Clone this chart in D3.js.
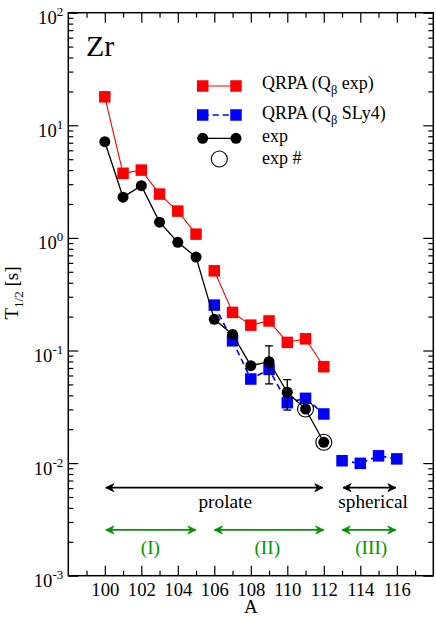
<!DOCTYPE html>
<html>
<head>
<meta charset="utf-8">
<script src="https://cdn.jsdelivr.net/npm/d3@7"></script>
<style>
  body { margin: 0; background: #fff; }
</style>
</head>
<body>
<svg width="436" height="617"></svg>
<script>
// mass numbers and half-lives [s]
var massA = [100, 101, 102, 103, 104, 105, 106, 107, 108, 109, 110, 111, 112];
var qrpaExp = [17.9, 3.75, 4.0, 2.45, 1.73, 1.08, 0.51, 0.218, 0.168, 0.183, 0.118, 0.127, 0.0718];
var slyA = [106, 107, 108, 109, 110, 111, 112, 113, 114, 115, 116];
var qrpaSly = [0.253, 0.122, 0.0558, 0.068, 0.0344, 0.0376, 0.0273, 0.0105, 0.00995, 0.0116, 0.0109];
var expT = [7.15, 2.3, 2.91, 1.38, 0.914, 0.676, 0.189, 0.139, 0.0733, 0.0795, 0.0426, 0.0302, 0.0153];
var errA = [109, 110];
var errLo = [0.0505, 0.0296];
var errHi = [0.110, 0.0551];
var hashA = [111, 112];
var hashT = [0.0302, 0.0153];
// the calculated curves are not joined across these gaps
var redBreak = 105.5;
var blueBreak = 112.5;
var xTicks = [100, 102, 104, 106, 108, 110, 112, 114, 116];
var yDecades = [-3, -2, -1, 0, 1, 2];

// shape regions (arrow spans)
var shapeNames = ["prolate", "spherical"];
var shapeFrom = [100, 113];
var shapeTo = [112, 116];
var shapeTextA = [106.6, 114.7];
var regNames = ["(I)", "(II)", "(III)"];
var regFrom = [100, 105.95, 112.95];
var regTo = [105.05, 112.05, 116];
var regTextA = [102.5, 108.9, 114.6];

var serif = "'Liberation Serif', 'Times New Roman', Times, serif";
var svg = d3.select("svg").attr("font-family", serif);
var pL = 68.3, pR = 433.3, pT = 12.7, pB = 575.7;

var x = d3.scaleLinear().domain([98, 118]).range([pL, pR]);
var y = d3.scaleLog().domain([1e-3, 1e2]).range([pB, pT]);

var green = "rgb(0,150,0)";

var defs = svg.append("defs");
function arrowMarker(id, col) {
  defs.append("marker")
      .attr("id", id)
      .attr("viewBox", "-10 -5 11 10")
      .attr("refX", 0).attr("refY", 0)
      .attr("markerWidth", 11).attr("markerHeight", 10)
      .attr("markerUnits", "userSpaceOnUse")
      .attr("orient", "auto-start-reverse")
    .append("path")
      .attr("d", "M0,0 L-8,-4 L-5.5,0 L-8,4 Z")
      .attr("fill", col)
      .attr("stroke", col)
      .attr("stroke-width", 0.8);
}
arrowMarker("arrBlack", "#000");
arrowMarker("arrGreen", green);

// minor tick values
var xMinor = d3.range(99, 118, 2);
var yMinor = [];
yDecades.slice(0, -1).forEach(function(d) {
  for (var m = 2; m <= 9; m++) yMinor.push(m * Math.pow(10, d));
});
var yMajor = yDecades.map(function(d) { return Math.pow(10, d); });

function styleAxis(g) {
  g.attr("font-family", serif);
  g.select(".domain").remove();
  g.selectAll("line").attr("stroke", "#000").attr("stroke-width", 1.2);
}

// bottom/top axes
svg.append("g").attr("transform", "translate(0," + pB + ")")
    .call(d3.axisBottom(x).tickValues(xTicks).tickSize(-10).tickPadding(7))
    .call(styleAxis)
    .selectAll("text").attr("font-size", "18.7px").attr("fill", "#000");
svg.append("g").attr("transform", "translate(0," + pB + ")")
    .call(d3.axisBottom(x).tickValues(xMinor).tickSize(-5).tickFormat(""))
    .call(styleAxis);
svg.append("g").attr("transform", "translate(0," + pT + ")")
    .call(d3.axisTop(x).tickValues(xTicks).tickSize(-10).tickFormat(""))
    .call(styleAxis);
svg.append("g").attr("transform", "translate(0," + pT + ")")
    .call(d3.axisTop(x).tickValues(xMinor).tickSize(-5).tickFormat(""))
    .call(styleAxis);

// left/right axes
var yl = svg.append("g").attr("transform", "translate(" + pL + ",0)")
    .call(d3.axisLeft(y).tickValues(yMajor).tickSize(-10).tickFormat(""))
    .call(styleAxis);
svg.append("g").attr("transform", "translate(" + pL + ",0)")
    .call(d3.axisLeft(y).tickValues(yMinor).tickSize(-5).tickFormat(""))
    .call(styleAxis);
svg.append("g").attr("transform", "translate(" + pR + ",0)")
    .call(d3.axisRight(y).tickValues(yMajor).tickSize(-10).tickFormat(""))
    .call(styleAxis);
svg.append("g").attr("transform", "translate(" + pR + ",0)")
    .call(d3.axisRight(y).tickValues(yMinor).tickSize(-5).tickFormat(""))
    .call(styleAxis);

// y tick labels 10^n
yl.selectAll(".tick").each(function(d) {
  var t = d3.select(this).append("text")
      .attr("x", -5).attr("y", 11)
      .attr("text-anchor", "end")
      .attr("fill", "#000")
      .attr("font-size", "18.7px");
  t.append("tspan").text("10");
  t.append("tspan").attr("font-size", "13px").attr("dy", -8)
      .text(Math.round(Math.log10(d)));
});

// frame
svg.append("rect")
    .attr("x", pL).attr("y", pT)
    .attr("width", pR - pL).attr("height", pB - pT)
    .attr("fill", "none").attr("stroke", "#000").attr("stroke-width", 1.5);

// axis titles
svg.append("text")
    .attr("x", x(108)).attr("y", 613)
    .attr("text-anchor", "middle")
    .attr("font-size", "19px")
    .text("A");

var yt = svg.append("text")
    .attr("transform", "translate(18,293) rotate(-90)")
    .attr("text-anchor", "middle")
    .attr("font-size", "19px");
yt.append("tspan").text("T");
yt.append("tspan").attr("font-size", "13px").attr("dy", 5).text("1/2");
yt.append("tspan").attr("dy", -5).text(" [s]");

svg.append("text")
    .attr("x", 86).attr("y", 56)
    .attr("font-size", "30px")
    .text("Zr");

// shape / region arrows
shapeNames.forEach(function(n, i) {
  svg.append("line")
      .attr("x1", x(shapeFrom[i]) + 1).attr("x2", x(shapeTo[i]) - 1)
      .attr("y1", y(0.00605)).attr("y2", y(0.00605))
      .attr("stroke", "#000").attr("stroke-width", 1.6)
      .attr("marker-start", "url(#arrBlack)")
      .attr("marker-end", "url(#arrBlack)");
  svg.append("text")
      .attr("x", x(shapeTextA[i])).attr("y", 508)
      .attr("text-anchor", "middle")
      .attr("font-size", "19.3px")
      .text(n);
});
regNames.forEach(function(n, i) {
  svg.append("line")
      .attr("x1", x(regFrom[i]) + 1).attr("x2", x(regTo[i]) - 1)
      .attr("y1", y(0.00255)).attr("y2", y(0.00255))
      .attr("stroke", green).attr("stroke-width", 1.6)
      .attr("marker-start", "url(#arrGreen)")
      .attr("marker-end", "url(#arrGreen)");
  svg.append("text")
      .attr("x", x(regTextA[i])).attr("y", 554)
      .attr("text-anchor", "middle")
      .attr("font-size", "19.3px")
      .attr("fill", green)
      .text(n);
});

// series
var line = d3.line().x(function(d) { return x(d[0]); }).y(function(d) { return y(d[1]); });
var redData = d3.zip(massA, qrpaExp);
var blueData = d3.zip(slyA, qrpaSly);
var blackData = d3.zip(massA, expT);
var sq = 11.5;

function segments(data, brk) {
  return [data.filter(function(d) { return d[0] < brk; }),
          data.filter(function(d) { return d[0] > brk; })];
}

svg.selectAll(".redline").data(segments(redData, redBreak)).enter().append("path")
    .attr("d", line)
    .attr("fill", "none").attr("stroke", "#ff0000").attr("stroke-width", 1.1);
svg.selectAll(".red").data(redData).enter().append("rect")
    .attr("x", function(d) { return x(d[0]) - sq / 2; })
    .attr("y", function(d) { return y(d[1]) - sq / 2; })
    .attr("width", sq).attr("height", sq).attr("fill", "#ff0000");

svg.selectAll(".blueline").data(segments(blueData, blueBreak)).enter().append("path")
    .attr("d", line)
    .attr("fill", "none").attr("stroke", "#0000ff").attr("stroke-width", 1.6)
    .attr("stroke-dasharray", "6,4");
svg.selectAll(".blue").data(blueData).enter().append("rect")
    .attr("x", function(d) { return x(d[0]) - sq / 2; })
    .attr("y", function(d) { return y(d[1]) - sq / 2; })
    .attr("width", sq).attr("height", sq).attr("fill", "#0000ff");

// error bars
errA.forEach(function(a, i) {
  var g = svg.append("g").attr("stroke", "#000").attr("stroke-width", 1.3);
  g.append("line").attr("x1", x(a)).attr("x2", x(a)).attr("y1", y(errLo[i])).attr("y2", y(errHi[i]));
  g.append("line").attr("x1", x(a) - 4).attr("x2", x(a) + 4).attr("y1", y(errLo[i])).attr("y2", y(errLo[i]));
  g.append("line").attr("x1", x(a) - 4).attr("x2", x(a) + 4).attr("y1", y(errHi[i])).attr("y2", y(errHi[i]));
});

svg.append("path").datum(blackData).attr("d", line)
    .attr("fill", "none").attr("stroke", "#000").attr("stroke-width", 1.3);
svg.selectAll(".blk").data(blackData).enter().append("circle")
    .attr("cx", function(d) { return x(d[0]); })
    .attr("cy", function(d) { return y(d[1]); })
    .attr("r", 5.5).attr("fill", "#000");

svg.selectAll(".hash").data(d3.zip(hashA, hashT)).enter().append("circle")
    .attr("cx", function(d) { return x(d[0]); })
    .attr("cy", function(d) { return y(d[1]); })
    .attr("r", 8).attr("fill", "none").attr("stroke", "#000").attr("stroke-width", 1.1);

// legend
var lx1 = 202.7, lx2 = 236, ltx = 262;
var lg = svg.append("g");
lg.append("line").attr("x1", lx1).attr("x2", lx2).attr("y1", 86).attr("y2", 86)
    .attr("stroke", "#ff0000").attr("stroke-width", 1.1);
[lx1, lx2].forEach(function(px) {
  lg.append("rect").attr("x", px - sq / 2).attr("y", 86 - sq / 2).attr("width", sq).attr("height", sq).attr("fill", "#ff0000");
});
lg.append("line").attr("x1", lx1).attr("x2", lx2).attr("y1", 115).attr("y2", 115)
    .attr("stroke", "#0000ff").attr("stroke-width", 1.6).attr("stroke-dasharray", "6,4");
[lx1, lx2].forEach(function(px) {
  lg.append("rect").attr("x", px - sq / 2).attr("y", 115 - sq / 2).attr("width", sq).attr("height", sq).attr("fill", "#0000ff");
});
lg.append("line").attr("x1", lx1).attr("x2", lx2).attr("y1", 138.3).attr("y2", 138.3)
    .attr("stroke", "#000").attr("stroke-width", 1.3);
[lx1, lx2].forEach(function(px) {
  lg.append("circle").attr("cx", px).attr("cy", 138.3).attr("r", 5.5).attr("fill", "#000");
});
lg.append("circle").attr("cx", 219.3).attr("cy", 159).attr("r", 8)
    .attr("fill", "none").attr("stroke", "#000").attr("stroke-width", 1.1);

function legendText(yy, main, sub, rest) {
  var t = lg.append("text").attr("x", ltx).attr("y", yy).attr("font-size", "18px");
  t.append("tspan").text(main);
  if (sub) {
    t.append("tspan").attr("font-size", "12.5px").attr("dy", 5).text(sub);
    t.append("tspan").attr("dy", -5).text(rest);
  }
}
legendText(88.5, "QRPA (Q", "\u03b2", " exp)");
legendText(118.5, "QRPA (Q", "\u03b2", " SLy4)");
legendText(142, "exp");
legendText(163.5, "exp #");
</script>
</body>
</html>
